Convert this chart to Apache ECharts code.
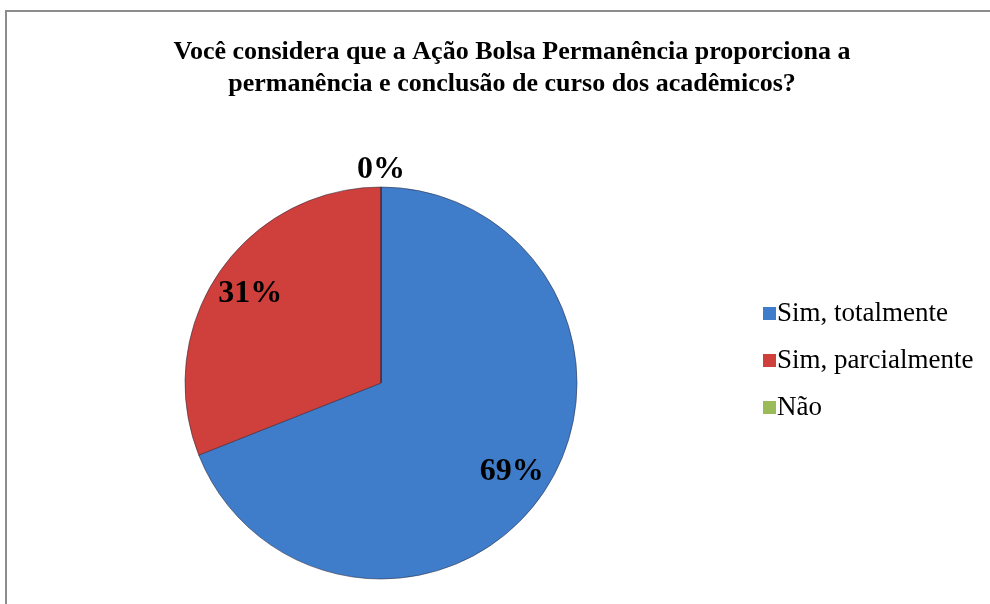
<!DOCTYPE html>
<html>
<head>
<meta charset="utf-8">
<script src="https://cdn.jsdelivr.net/npm/echarts@6/dist/echarts.min.js"></script>
<style>
  html, body { margin: 0; padding: 0; background: #fff; }
  #chart { width: 990px; height: 604px; }
</style>
</head>
<body>
<div id="chart"></div>
<script>
const categories = ['Sim, totalmente', 'Sim, parcialmente', 'Não']
const values = [69, 31, 0]
const colors = ['#3f7dcb', '#cf3f3c', '#9bbb59']
const titleText = 'Você considera que a Ação Bolsa Permanência proporciona a\npermanência e conclusão de curso dos acadêmicos?'

const chartInstance = echarts.init(document.getElementById('chart'))

const pieData = categories.map((name, i) => ({
  name: name,
  value: values[i],
  itemStyle: { color: colors[i] }
}))

const labelFont = {
  fontFamily: 'Liberation Serif',
  fontWeight: 'bold',
  fontSize: 32,
  color: '#000'
}

// label-only pies: 'inside' labels sit at half the radius
const labelPie = (radius, showIdx) => ({
  type: 'pie',
  center: [381, 383],
  radius: radius,
  startAngle: 90,
  silent: true,
  z: 3,
  itemStyle: { color: 'rgba(0,0,0,0)' },
  emphasis: { disabled: true },
  labelLine: { show: false },
  data: categories.map((name, i) => ({
    name: name,
    value: values[i],
    label: {
      show: showIdx.includes(i),
      position: 'inside',
      formatter: '{d}%',
      ...labelFont
    }
  }))
})

const option = {
  animation: false,
  title: {
    text: titleText,
    left: 507,
    top: 31,
    textAlign: 'center',
    textStyle: {
      fontFamily: 'Liberation Serif',
      fontWeight: 'bold',
      fontSize: 26,
      lineHeight: 32,
      color: '#000'
    }
  },
  legend: {
    orient: 'vertical',
    left: 758,
    top: 295,
    itemWidth: 13,
    itemHeight: 13,
    itemGap: 20,
    icon: 'rect',
    itemStyle: { borderWidth: 0 },
    data: categories.map((name, i) => ({ name: name, itemStyle: { color: colors[i], borderWidth: 0 } })),
    textStyle: {
      fontFamily: 'Liberation Serif',
      fontSize: 27,
      color: '#000',
      padding: [0, 0, 0, -4]
    }
  },
  graphic: [{
    type: 'rect',
    shape: { x: 6, y: 11, width: 1100, height: 700 },
    style: { fill: 'none', stroke: '#8c8c8c', lineWidth: 2 },
    silent: true,
    z: -1
  }],
  series: [
    {
      type: 'pie',
      center: [381, 383],
      radius: 196,
      startAngle: 90,
      label: { show: false },
      labelLine: { show: false },
      itemStyle: { borderColor: 'rgba(40,40,60,0.55)', borderWidth: 1 },
      data: pieData
    },
    labelPie(310, [0, 1]),
    labelPie(420, [2])
  ]
}

chartInstance.setOption(option)
</script>
</body>
</html>
